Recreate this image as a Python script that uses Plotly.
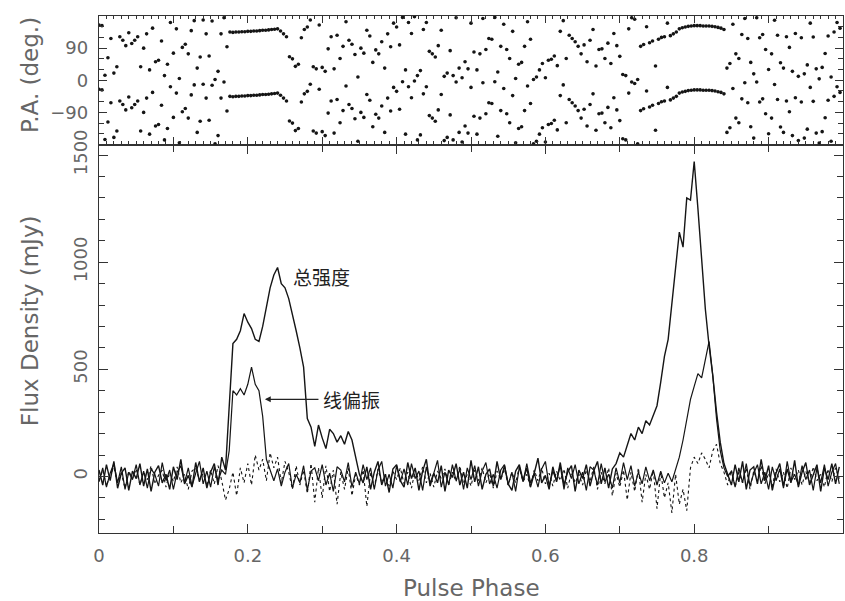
import numpy as np
import plotly.graph_objects as go

# ---------------- data ----------------
PHASE_STEP = 0.005   # profile bins
PA_STEP = 0.004      # position-angle bins

# total intensity (mJy)
total_intensity = [
    30, -40, 55, -20, 70, -55, 15, 40, -65, 25,
    -10, 60, -45, 35, -70, 20, 50, -30, 10, -60,
    45, -15, 80, -35, 5, -50, 65, -25, 40, -55,
    20, 60, -40, 90,
    # first pulse
    30, 300, 620, 640, 680, 760, 720, 690, 640, 630,
    700, 790, 880, 940, 975, 900, 880, 830, 760, 680,
    600, 510, 270, 230, 140, 240, 180, 130, 220, 200,
    160, 190, 150, 210, 170, 90, 10,
    # off-pulse
    -30, 45, -60, 20, 70, -40, 10, -75, 35, 55,
    -20, -50, 65, -10, 40, -65, 25, 80, -45, 15,
    -30, 50, -70, 30, -5, 60, -40, 20, -55, 75,
    -25, 45, -60, 10, 35, -45, 70, -15, 50, -35,
    -65, 25, 55, -20, 40, -50, 15, 85, -30, 5,
    -60, 45, -25, 65, -40, 20, 50, -70, 30, -10,
    55, -45, 25, 70, -35, 40, -55, 35,
    # second pulse
    60, 110, 90, 150, 200, 170, 230, 200, 260, 240,
    290, 330, 440, 560, 640, 800, 960, 1140, 1070, 1300,
    1290, 1470, 1250, 1030, 780, 610, 470, 300, 160, 60,
    10,
    # off-pulse
    -40, 55, -25, 70, -60, 30, 45, -35, 80, -20,
    50, -65, 15, 60, -45, 35, -30, 75, -50, 20,
    65, -40, 10, 55, -70, 40, -15, 60, -35, 45,
]

# linear polarisation (mJy)
linear_pol = [
    -25, 40, -50, 15, 60, -30, 45, -60, 20, -15,
    55, -40, 25, -55, 35, 10, -45, 65, -20, 30,
    -60, 20, 50, -30, 40, -45, 15, 70, -35, 25,
    -50, 45, -20, 30,
    # first pulse
    10, 120, 400, 380, 410, 380, 430, 510, 430, 400,
    280, 80, 30, -20,
    # off-pulse
    35, -45, 20, 60, -55, 10, -30, 50, -65, 25,
    40, -20, 55, -40, 15, -70, 45, 30, -25, 65,
    -50, 20, -35, 55, -15, 40, -60, 30, 70, -45,
    10, -55, 50, -25, 35, -40, 60, -10, 25, -65,
    45, -30, 15, 75, -50, 20, -40, 55, -20, 35,
    -60, 40, -15, 50, -45, 25, 65, -35, 10, -55,
    30, 55, -40, 20, -70, 45, -25, 60, -30, 15,
    -50, 35, 70, -45, 25, -20, 50, -60, 40, -10,
    55, -35, 20, -65, 45, 30, -40, 60, -25, 10,
    -55, 40, -30, 65, -15, 50, -45, 20, -35, 45,
    -20, 30, -40, 25, -30, 15, -25,
    # second pulse
    30, 90, 170, 260, 360, 420, 480, 460, 540, 630,
    470, 270, 120, 40, 0,
    # off-pulse
    25, -50, 40, -30, 60, -45, 15, 55, -35, 20,
    -60, 45, -20, 35, -55, 70, -25, 10, -40, 50,
    -15, 30, -65, 40, -30, 55, -45, 20, 60, -35,
]

# circular polarisation (mJy, dotted)
circular_pol = [
    -20, 30, -45, 10, 40, -30, 15, -55, 25, -10,
    35, -40, 20, -15, 50, -35, 5, 30, -50, 20,
    -25, 45, -30, 10, -60, 25, 40, -20, 15, -45,
    30, -35, 50, -20, -110, -60, 20, -90, 40, -30,
    60, -40, 100, 30, 80, -20, 110, 40, 90, -30,
    70, 20, -60, 50, -40, 30, -80, 60, -120, 40,
    -100, 50, -70, 30, -130, 20, -60, 40, -90, 10,
    -40, 30, -140, 20, -50, 35, -30, 10, -45, 25,
    -15, 40, -35, 20, -55, 30, -20, 45, -30, 15,
    -50, 25, -10, 35, -40, 20, -25, 50, -35, 10,
    -45, 30, -20, 40, -30, 15, -55, 25, -15, 35,
    -40, 20, -30, 45, -25, 10, -50, 30, -20, 40,
    -35, 15, -45, 25, -20, 35, -55, 20, -30, 10,
    -40, 30, -25, 45, -60, 20, -35, 40, -90, 15,
    -50, 30, -110, 20, -70, 40, -120, 10, -60, 30,
    -150, 20, -100, -30, -170, 10, -130, -60, -160, 40,
    90, 60, 110, 80, 40, 120, 150, 60, 20, -40,
    30, -50, 20, -30, 40, -60, 25, -20, 50, -35,
    15, -45, 35, -25, 20, -55, 40, -15, 30, -40,
    25, -30, 45, -20, 10, -50, 35, -25, 40, -10,
]

# position angle (deg), one value per PA bin; plotted again +180 deg
position_angle = [
    -25, -27, -166, -117, -63, -160, -142, -58, -68, -83,
    -47, -77, -68, -58, -142, -90, -50, -151, -34, -128,
    -124, -70, -167, -135, -18, -104, -36, -175, -88, -79,
    -106, -41, -13, -146, -115, -11, -50, -112, -14, -178,
    -155, -50, -5, -86, -45,
    # first pulse track
    -46, -45, -45, -44, -44, -43, -43, -42, -42, -41,
    -40, -40, -39, -38, -37,
    -36, -42, -50, -58,
    -114, -120, -141, -135,
    # off-pulse
    -61, -38, -31, -11, -142,
    -148, -25, -144, -155, -92, -58, -148, -54, -119, -85,
    -16, -68, -79, -108, -171, -90, -104, -40, -56, -130,
    -95, -106, -72, -146, -50, -86, -20, -31, -81, -4,
    -151, -18, -49, -2, -167, -153, -38, -18, -99, -106,
    -115, -83, -40, -169, -160, -97, -167, -5, -146, -173,
    -128, -148, -20, -101, -151, -106, -7, -94, -63, -65,
    -4, -157, -85, -23, -94, -119, -43, -175, -135, -130,
    -85, -16, -65, -178, -171, -151, -133, -173, -124, -121,
    -112, -139, -43, -13, -119, -54, -63, -72, -85, -106,
    -81, -128, -68, -38, -140, -94, -92, -119, -76, -133,
    -49, -83, -113, -164, -167, -36, -5, -9, -178,
    # leading part of second pulse
    -85, -80, -30, -75, -70, -140, -65, -60, -58, -20,
    -55, -50, -45,
    # second pulse track
    -36, -33, -31, -29, -28, -27, -27, -27, -28, -28,
    -28, -29, -30, -32, -34,
    # off-pulse
    -38,
    -146, -133, -23, -106, -119, -52, -7, -63, -130, -162,
    -5, -61, -52, -94, -150, -106, -12, -54, -131, -146,
    -58, -88, -155, -49, -169, -61, -162, -137, -20, -59,
    -148, -176, -144, -105, -56, -171, -45, -18, -34,
]

x_tick_vals = [0, 0.2, 0.4, 0.6, 0.8]
x_tick_text = ["0", "0.2", "0.4", "0.6", "0.8"]
flux_tick_vals = [0, 500, 1000, 1500]
pa_tick_vals = [-90, 0, 90]
pa_tick_text = ["\u221290", "0", "90"]

# ---------------- figure ----------------
phase = np.arange(len(total_intensity)) * PHASE_STEP
pa_phase = np.arange(len(position_angle)) * PA_STEP
pa = np.array(position_angle, dtype=float)

fig = go.Figure()
ink = "#151515"
fig.add_trace(go.Scatter(x=phase, y=circular_pol, mode="lines",
                         line=dict(color=ink, width=1.1, dash="dot"),
                         xaxis="x", yaxis="y"))
fig.add_trace(go.Scatter(x=phase, y=linear_pol, mode="lines",
                         line=dict(color=ink, width=1.2),
                         xaxis="x", yaxis="y"))
fig.add_trace(go.Scatter(x=phase, y=total_intensity, mode="lines",
                         line=dict(color=ink, width=1.4),
                         xaxis="x", yaxis="y"))
fig.add_trace(go.Scatter(x=np.concatenate([pa_phase, pa_phase]),
                         y=np.concatenate([pa, pa + 180]),
                         mode="markers",
                         marker=dict(color=ink, size=3.6),
                         xaxis="x2", yaxis="y2"))

axis_color = "#333333"
tick_font = dict(family="DejaVu Sans", size=18, color="#666666")
split = 0.7514

fig.update_layout(
    width=845, height=601,
    margin=dict(l=99, r=1, t=12, b=68),
    paper_bgcolor="white", plot_bgcolor="white",
    showlegend=False,
    font=dict(family="DejaVu Sans", color="#666666"),
    xaxis=dict(domain=[0, 1], range=[0, 1], anchor="y",
               tickmode="array", tickvals=x_tick_vals, ticktext=x_tick_text,
               ticks="inside", ticklen=9, tickcolor=axis_color,
               minor=dict(dtick=0.1, tick0=0, ticks="inside", ticklen=7,
                          tickcolor=axis_color),
               showline=True, linecolor=axis_color, linewidth=1.3,
               mirror="ticks", showgrid=False, zeroline=False,
               tickfont=tick_font, ticklabelstandoff=6),
    yaxis=dict(domain=[0, split], range=[-264, 1549], anchor="x",
               tickmode="array", tickvals=flux_tick_vals,
               tickangle=-90,
               ticks="inside", ticklen=9, tickcolor=axis_color,
               minor=dict(dtick=100, tick0=0, ticks="inside", ticklen=6,
                          tickcolor=axis_color),
               showline=True, linecolor=axis_color, linewidth=1.3,
               mirror="ticks", showgrid=False, zeroline=False,
               tickfont=tick_font, ticklabelstandoff=4),
    xaxis2=dict(domain=[0, 1], range=[0, 1], anchor="y2", matches="x",
                showticklabels=False,
                tickmode="linear", tick0=0, dtick=0.1,
                ticks="inside", ticklen=7, tickcolor=axis_color,
                minor=dict(dtick=0.01, tick0=0, ticks="inside", ticklen=3,
                           tickcolor=axis_color),
                showline=True, linecolor=axis_color, linewidth=1.3,
                mirror="ticks", showgrid=False, zeroline=False),
    yaxis2=dict(domain=[split, 1], range=[-180, 180], anchor="x2",
                tickmode="array", tickvals=pa_tick_vals, ticktext=pa_tick_text,
                ticks="inside", ticklen=8, tickcolor=axis_color,
                minor=dict(dtick=30, tick0=0, ticks="inside", ticklen=5,
                           tickcolor=axis_color),
                showline=True, linecolor=axis_color, linewidth=1.3,
                mirror="ticks", showgrid=False, zeroline=False,
                tickfont=tick_font, ticklabelstandoff=6),
)

title_font = dict(family="DejaVu Sans", size=23, color="#666666")
cjk_font = dict(family="Noto Sans CJK SC", size=19, color="#222222")

fig.add_annotation(text="Pulse Phase", xref="paper", yref="paper",
                   x=0.5007, y=-0.106, xanchor="center", yanchor="middle",
                   showarrow=False, font=title_font)
fig.add_annotation(text="Flux Density (mJy)", xref="paper", yref="paper",
                   x=-0.0926, y=0.41, xanchor="center", yanchor="middle",
                   textangle=-90, showarrow=False, font=title_font)
fig.add_annotation(text="P.A. (deg.)", xref="paper", yref="paper",
                   x=-0.0926, y=0.886, xanchor="center", yanchor="middle",
                   textangle=-90, showarrow=False, font=title_font)

fig.add_annotation(text="总强度", xref="x", yref="y", x=0.2995, y=935,
                   xanchor="center", yanchor="middle",
                   showarrow=False, font=cjk_font)
fig.add_annotation(text="线偏振", xref="x", yref="y", x=0.3395, y=360,
                   xanchor="center", yanchor="middle",
                   showarrow=False, font=cjk_font)
fig.add_annotation(text="", xref="x", yref="y", x=0.223, y=360,
                   axref="x", ayref="y", ax=0.297, ay=360,
                   showarrow=True, arrowhead=2, arrowsize=0.9,
                   arrowwidth=1.3, arrowcolor="#222222")

fig.write_html("out.html")
